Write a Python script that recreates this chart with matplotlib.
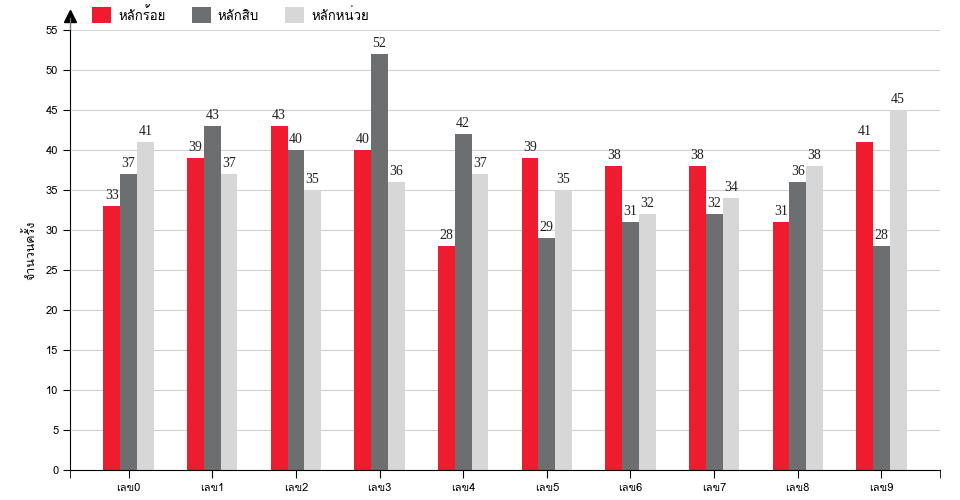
import matplotlib
matplotlib.use("Agg")
import matplotlib.pyplot as plt
from matplotlib import font_manager
from matplotlib.ft2font import FT2Font
import numpy as np

categories = ["เลข0", "เลข1", "เลข2", "เลข3", "เลข4", "เลข5", "เลข6", "เลข7", "เลข8", "เลข9"]
hundreds = [33, 39, 43, 40, 28, 39, 38, 38, 31, 41]
tens = [37, 43, 40, 52, 42, 29, 31, 32, 36, 28]
units = [41, 37, 35, 36, 37, 35, 32, 34, 38, 45]
series_names = ["หลักร้อย", "หลักสิบ", "หลักหน่วย"]
colors = ["#ed1c2e", "#6d6e70", "#d7d7d7"]


# find a font that has Thai glyphs
def thai_family():
    for f in font_manager.fontManager.ttflist:
        try:
            if FT2Font(f.fname).get_char_index(ord("ก")) != 0:
                return f.name
        except Exception:
            pass
    return None

thai = thai_family()
fams = ([thai] if thai else []) + ["DejaVu Sans"]
plt.rcParams["font.family"] = fams

fig = plt.figure(figsize=(9.6, 5.0), dpi=100)
ax = fig.add_axes([70 / 960, 30 / 500, 870 / 960, 440 / 500])

x = np.arange(len(categories))
w = 0.2
data = [hundreds, tens, units]
for i, vals in enumerate(data):
    xs = x + (i - 1) * w
    ax.bar(xs, vals, width=w, color=colors[i], label=series_names[i], zorder=2)
    for xx, v in zip(xs, vals):
        ax.text(xx, v + 0.5, str(v), ha="center", va="bottom", fontsize=10,
                family="Liberation Serif", color="#222222")

x0, x1 = -0.7, len(categories) - 0.3
ax.set_xlim(x0, x1)
ax.set_ylim(0, 55)
ax.set_yticks(range(0, 56, 5))
ax.set_xticks(x)
ax.set_xticks([x0, x1], minor=True)
ax.set_xticklabels(categories, fontsize=8)
ax.tick_params(axis="y", labelsize=8, length=5, color="black")
ax.tick_params(axis="x", which="both", length=6)
ax.yaxis.grid(True, color="#d0d0d0", linewidth=0.8, zorder=0)
for s in ["top", "right"]:
    ax.spines[s].set_visible(False)
ax.spines["left"].set_color("black")
ax.spines["bottom"].set_color("black")
ax.set_ylabel("จำนวนครั้ง", fontsize=9, labelpad=6)

# arrow at top of y axis
ax.plot([x0], [56.8], marker="^", color="black", markersize=8, clip_on=False)
ax.plot([x0, x0], [55, 56.5], color="#777777", lw=1, clip_on=False)

ax.legend(loc="upper left", bbox_to_anchor=(0.012, 1.08), ncol=3, frameon=False,
          fontsize=9.5, handlelength=1.45, handleheight=1.45, handletextpad=0.5,
          columnspacing=2.0)

fig.savefig("out.png", dpi=100)
